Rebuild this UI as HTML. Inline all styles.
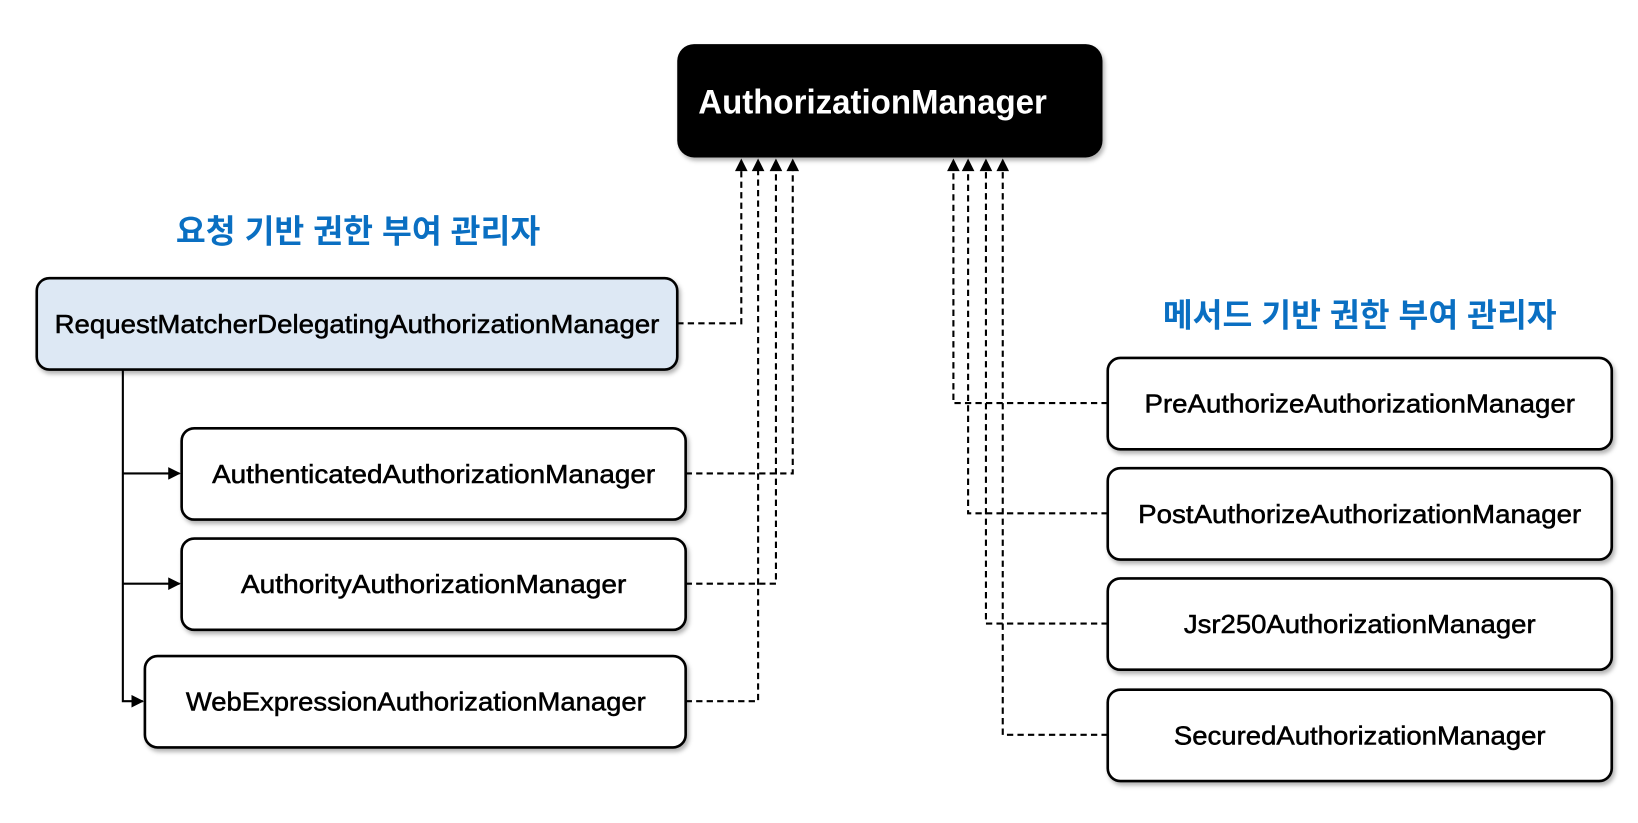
<!DOCTYPE html>
<html><head><meta charset="utf-8"><style>
html,body{margin:0;padding:0;background:#fff;width:1638px;height:823px;overflow:hidden}
svg{display:block}
text{font-family:"Liberation Sans","Noto Sans CJK KR",sans-serif}
</style></head><body>
<svg width="1638" height="823" viewBox="0 0 1560 784" preserveAspectRatio="none" xmlns="http://www.w3.org/2000/svg">
<defs>
<filter id="sh" x="-5%" y="-10%" width="110%" height="130%"><feDropShadow dx="2" dy="3" stdDeviation="2" flood-color="#000" flood-opacity="0.3"/></filter>
<marker id="ah" viewBox="0 0 10 10" refX="9" refY="5" markerWidth="6" markerHeight="6" orient="auto"><path d="M0,0 L10,5 L0,10 z" fill="#000"/></marker>
</defs>
<g stroke="#000" stroke-width="2" fill="none" stroke-dasharray="6,4">
<path d="M645,308 H706 V160"/>
<path d="M653,451 H755 V160"/>
<path d="M653,556 H739 V160"/>
<path d="M653,668 H722 V160"/>
<path d="M1055,384 H908 V160"/>
<path d="M1055,489 H922 V160"/>
<path d="M1055,594 H939 V160"/>
<path d="M1055,700 H955 V160"/>
</g>
<g fill="#000">
<path d="M700,163 L706,151 L712,163z"/><path d="M716,163 L722,151 L728,163z"/><path d="M733,163 L739,151 L745,163z"/><path d="M749,163 L755,151 L761,163z"/>
<path d="M902,163 L908,151 L914,163z"/><path d="M916,163 L922,151 L928,163z"/><path d="M933,163 L939,151 L945,163z"/><path d="M949,163 L955,151 L961,163z"/>
</g>
<g stroke="#000" stroke-width="2" fill="none">
<path d="M117,352 V668 H136" marker-end="url(#ah)"/>
<path d="M117,451 H171" marker-end="url(#ah)"/>
<path d="M117,556 H171" marker-end="url(#ah)"/>
</g>
<rect x="645" y="42" width="405" height="108" rx="16" fill="#000" filter="url(#sh)"/>
<text x="665" y="108" font-size="33" fill="#fff" font-weight="bold" textLength="332" lengthAdjust="spacingAndGlyphs">AuthorizationManager</text>
<text x="341" y="231" font-size="31" fill="#0a6fc2" font-weight="bold" text-anchor="middle" textLength="347" lengthAdjust="spacingAndGlyphs">요청 기반 권한 부여 관리자</text>
<text x="1295" y="311" font-size="31" fill="#0a6fc2" font-weight="bold" text-anchor="middle" textLength="375" lengthAdjust="spacingAndGlyphs">메서드 기반 권한 부여 관리자</text>
<g stroke="#000" stroke-width="2.5" filter="url(#sh)">
<rect x="35" y="265" width="610" height="87" rx="12" fill="#dde8f4"/>
<rect x="173" y="408" width="480" height="87" rx="12" fill="#fff"/>
<rect x="173" y="513" width="480" height="87" rx="12" fill="#fff"/>
<rect x="138" y="625" width="515" height="87" rx="12" fill="#fff"/>
<rect x="1055" y="341" width="480" height="87" rx="12" fill="#fff"/>
<rect x="1055" y="446" width="480" height="87" rx="12" fill="#fff"/>
<rect x="1055" y="551" width="480" height="87" rx="12" fill="#fff"/>
<rect x="1055" y="657" width="480" height="87" rx="12" fill="#fff"/>
</g>
<g font-size="25" fill="#000" stroke="#000" stroke-width="0.5" text-anchor="middle">
<text x="340" y="317" textLength="576" lengthAdjust="spacingAndGlyphs">RequestMatcherDelegatingAuthorizationManager</text>
<text x="413" y="460" textLength="422" lengthAdjust="spacingAndGlyphs">AuthenticatedAuthorizationManager</text>
<text x="413" y="565" textLength="367" lengthAdjust="spacingAndGlyphs">AuthorityAuthorizationManager</text>
<text x="396" y="677" textLength="438" lengthAdjust="spacingAndGlyphs">WebExpressionAuthorizationManager</text>
<text x="1295" y="393" textLength="410" lengthAdjust="spacingAndGlyphs">PreAuthorizeAuthorizationManager</text>
<text x="1295" y="498" textLength="422" lengthAdjust="spacingAndGlyphs">PostAuthorizeAuthorizationManager</text>
<text x="1295" y="603" textLength="335" lengthAdjust="spacingAndGlyphs">Jsr250AuthorizationManager</text>
<text x="1295" y="709" textLength="354" lengthAdjust="spacingAndGlyphs">SecuredAuthorizationManager</text>
</g>
</svg>
</body></html>
